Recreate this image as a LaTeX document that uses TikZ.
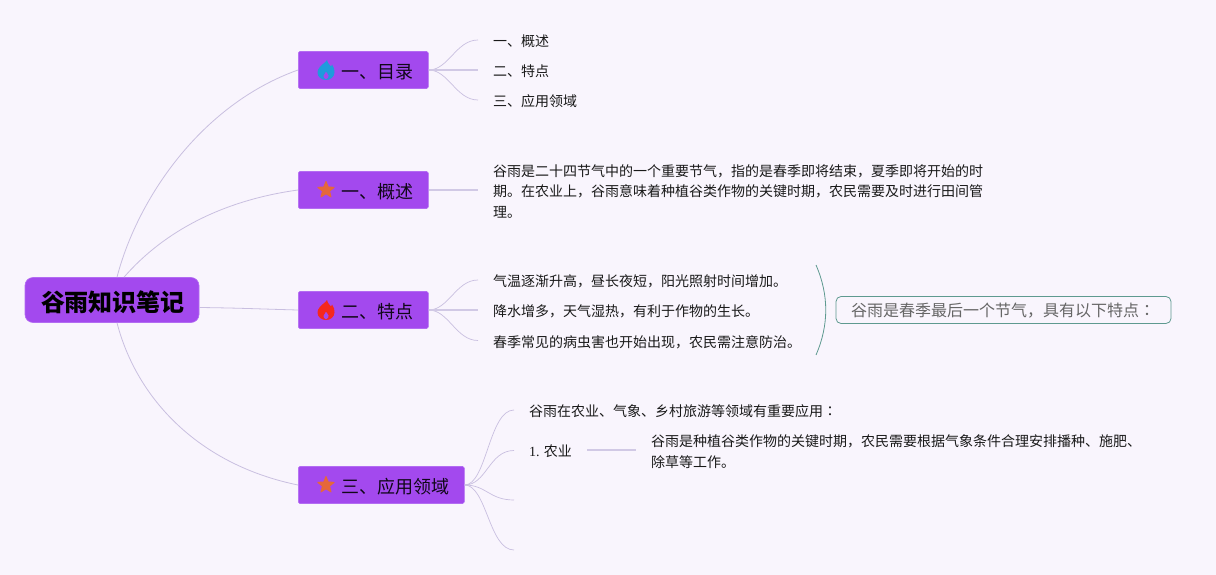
\documentclass[tikz,border=0pt]{standalone}
\usepackage{fontspec}
\setmainfont{Noto Sans CJK SC}
\newfontfamily\tcfont{Noto Sans CJK TC}
\newfontfamily\numfont{Liberation Serif}
\usetikzlibrary{shapes.geometric,calc}
\definecolor{bgc}{HTML}{F9F5FD}
\definecolor{purp}{HTML}{A349EE}
\definecolor{purpb}{HTML}{B36CF2}
\definecolor{linec}{HTML}{C9BFE0}
\definecolor{teal1}{HTML}{5F9A90}
\definecolor{starc}{HTML}{E5673A}
\definecolor{blue1}{HTML}{1F9BDC}
\definecolor{red1}{HTML}{F5281E}
\tikzset{
  rootbox/.style={draw=purpb,fill=purp,rounded corners=8pt,line width=.6pt,minimum width=174pt,minimum height=45pt,inner sep=0pt,text=black},
  roottext/.style={inner sep=0pt,font=\fontsize{24}{28}\selectfont\bfseries,text=black},
  branchbox/.style={draw=purpb,fill=purp,rounded corners=1.5pt,line width=.6pt,minimum height=37pt,inner sep=0pt},
  branchtext/.style={anchor=west,inner sep=0pt,font=\fontsize{18}{22}\selectfont,text=black!90!purp},
  leaf/.style={anchor=west,inner xsep=15pt,inner ysep=0pt,font=\fontsize{14}{20.5}\selectfont,text=black!90,align=left},
  conn/.style={draw=linec,line width=.8pt},
  thin conn/.style={draw=linec,line width=.7pt},
  thick conn/.style={draw=linec!85!white,line width=1.2pt},
  icon star/.style={star,star points=5,star point ratio=2.3,fill=starc,draw=starc,line join=round,line width=1pt,inner sep=0pt,minimum size=17pt},
  summary/.style={draw=teal1,line width=.8pt,rounded corners=5pt,minimum width=335pt,minimum height=27pt,inner sep=0pt,font=\fontsize{16}{20}\selectfont,text=black!60}
}
\newcommand{\flameicon}[3]{%
  \fill[#3,even odd rule,shift={(#1,#2)}]
    (1,-10) .. controls (2,-6) and (4,-5) .. (5,-3.5) .. controls (5.5,-4) and (6,-5) .. (6,-5.5)
    .. controls (8,-3) and (8.7,0) .. (8.5,2.5) .. controls (8.2,7) and (4.5,10) .. (0,10)
    .. controls (-4.5,10) and (-8.5,7) .. (-8.5,2.5) .. controls (-8.5,-1.5) and (-5,-4) .. (-3,-6)
    .. controls (-1.5,-7.5) and (0.5,-8.5) .. (1,-10) -- cycle
    (0,9.6) .. controls (-2,9) and (-3,7) .. (-2.5,5.5) .. controls (-2,4) and (-0.8,3) .. (0,1.5)
    .. controls (0.8,3) and (2.2,4) .. (2.6,5.5) .. controls (3,7) and (2,9) .. (0,9.6) -- cycle;}
\begin{document}
\begin{tikzpicture}[x=1pt,y=-1pt]
\useasboundingbox (0,0) rectangle (1216,575);
\fill[bgc] (0,0) rectangle (1216,575);
% nodes
\node[rootbox] (root) at (112,300) {};
\node[roottext] (roott) at (113,302) {谷雨知识笔记};
\node[branchbox,minimum width=130pt] (b1) at (363.3,70) {};
\node[branchbox,minimum width=130pt] (b2) at (363.3,190) {};
\node[branchbox,minimum width=130pt] (b3) at (363.3,310) {};
\node[branchbox,minimum width=166pt] (b4) at (381.3,485) {};
\node[branchtext] (t1) at (341,72) {一、目录};
\node[branchtext] (t2) at (341,192) {一、概述};
\node[branchtext] (t3) at (341,312) {二、特点};
\node[branchtext] (t4) at (341,487) {三、应用领域};
\flameicon{326}{70}{blue1}
\flameicon{326}{310}{red1}
\node[icon star] (s2) at (326,190) {};
\node[icon star] (s4) at (326,485) {};
% leaves
\node[leaf] (l11) at (478,41.5) {一、概述};
\node[leaf] (l12) at (478,71.5) {二、特点};
\node[leaf] (l13) at (478,101.5) {三、应用领域};
\node[leaf] (l21) at (478,191.5) {谷雨是二十四节气中的一个重要节气，指的是春季即将结束，夏季即将开始的时\\期。在农业上，谷雨意味着种植谷类作物的关键时期，农民需要及时进行田间管\\理。};
\node[leaf] (l31) at (478,281.5) {气温逐渐升高，昼长夜短，阳光照射时间增加。};
\node[leaf] (l32) at (478,311.5) {降水增多，天气湿热，有利于作物的生长。};
\node[leaf] (l33) at (478,342) {春季常见的病虫害也开始出现，农民需注意防治。};
\node[leaf] (l41) at (514,411) {谷雨在农业、气象、乡村旅游等领域有重要应用{\tcfont ：}};
\node[leaf] (l42) at (514,451.5) {{\numfont 1.} 农业};
\coordinate (l43) at (514,500);
\coordinate (l44) at (514,550);
\node[leaf] (l421) at (636,451.5) {谷雨是种植谷类作物的关键时期，农民需要根据气象条件合理安排播种、施肥、\\除草等工作。};
\node[summary] (sum) at (1003.5,310) {}; 
\node[inner sep=0pt,font=\fontsize{16}{20}\selectfont,text=black!60] (sumt) at (1003,310.5) {谷雨是春季最后一个节气，具有以下特点{\tcfont ：}};
\coordinate (br1) at (816,265);
\coordinate (br2) at (816,355);
% root connectors
\draw[conn] ($(root.north)+(5,0)$) .. controls (137,200) and (200,105) .. (b1.west);
\draw[conn] ($(root.north)+(12,0)$) .. controls (165,230) and (225,200) .. (b2.west);
\draw[conn] ($(root.east)+(0,7.5)$) .. controls (240,308) and (260,309) .. (b3.west);
\draw[conn] ($(root.south)+(5,0)$) .. controls (137,400) and (200,465) .. (b4.west);
% branch connectors
\foreach \a/\b in {b1/l11,b1/l13,b3/l31,b3/l33}
  \draw[thin conn] (\a.east) .. controls +(20,0) and ($(\b.west)+(-22,-1.5)$) .. ($(\b.west)+(0,-1.5)$);
\draw[thick conn] (b1.east) -- (l12.west |- b1.east);
\draw[thick conn] (b2.east) -- (l21.west |- b2.east);
\draw[thick conn] (b3.east) -- (l32.west |- b3.east);
\foreach \b in {l41,l42}
  \draw[thin conn] (b4.east) .. controls +(22,0) and ($(\b.west)+(-25,-1)$) .. ($(\b.west)+(0,-1)$);
\foreach \b in {l43,l44}
  \draw[thin conn] (b4.east) .. controls +(22,0) and ($(\b)+(-25,0)$) .. (\b);
\draw[thick conn] ($(l42.east)+(0,-1.5)$) -- ($(l421.west)+(0,-1.5)$);
% bracket
\draw[teal1,line width=.8pt] (br1) .. controls (829,295) and (829,325) .. (br2);
\end{tikzpicture}
\end{document}
